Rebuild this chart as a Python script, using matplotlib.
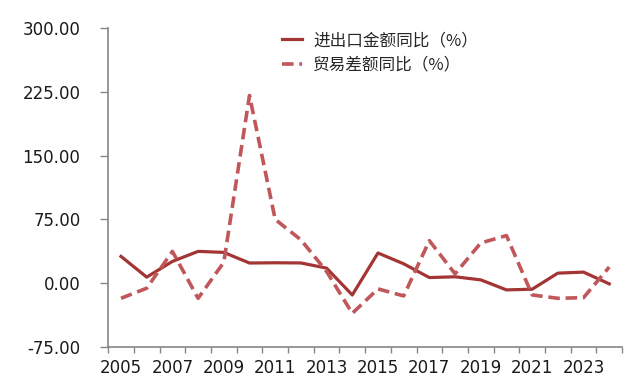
import numpy as np
import matplotlib.pyplot as plt

plt.rcParams['font.family'] = ['DejaVu Sans', 'Noto Sans CJK SC']

years = list(range(2005, 2025))
# 进出口金额同比 (%)
trade_yoy = [31.5, 7.1, 25.6, 37.4, 36.2, 23.7, 24.0, 23.8, 17.7, -13.9,
             35.5, 22.8, 6.6, 7.5, 3.9, -7.9, -7.1, 11.8, 13.0, -0.8]
# 贸易差额同比 (%)
balance_yoy = [-17.8, -5.9, 37.4, -17.8, 24.5, 220.8, 75.0, 51.0, 13.8, -35.5,
               -6.7, -15.0, 50.0, 11.0, 47.3, 56.0, -13.8, -17.8, -17.0, 19.0]
yticks = [-75, 0, 75, 150, 225, 300]

x = np.arange(len(years))

fig = plt.figure(figsize=(6.4, 3.8), dpi=100)
ax = fig.add_axes([0.169, 0.087, 0.803, 0.839])

ax.plot(x, trade_yoy, color='#A33535', lw=2.3, label='进出口金额同比（%）')
ax.plot(x, balance_yoy, color='#C0575A', lw=2.6, ls=(0, (3.2, 1.6)),
        label='贸易差额同比（%）')

ax.set_xlim(-0.5, len(years) - 0.5)
ax.set_ylim(-75, 300)
ax.set_yticks(yticks)
ax.set_yticklabels(['%.2f' % v for v in yticks], fontsize=12, color='#1a1a1a')

# category boundaries carry the tick marks, labels sit on every other year
ax.set_xticks(np.arange(len(years) + 1) - 0.5)
ax.set_xticklabels([])
ax.set_xticks(x[::2], minor=True)
ax.set_xticklabels([str(y) for y in years[::2]], minor=True, fontsize=12,
                   color='#1a1a1a')
ax.tick_params(axis='x', which='minor', length=0, pad=9)
ax.tick_params(axis='x', which='major', length=4, color='#868686', width=1)
ax.tick_params(axis='y', which='major', length=6, color='#868686', width=1,
               pad=14)

for s in ['top', 'right']:
    ax.spines[s].set_visible(False)
for s in ['left', 'bottom']:
    ax.spines[s].set_color('#868686')
    ax.spines[s].set_linewidth(1.2)

leg = ax.legend(loc='upper left', bbox_to_anchor=(0.31, 1.035), frameon=False,
                prop={'family': ['Noto Sans CJK SC', 'DejaVu Sans'], 'size': 12},
                handlelength=1.2, handletextpad=0.65, labelspacing=0.45)
for t in leg.get_texts():
    t.set_color('#262626')

fig.savefig('out.png', dpi=100)
